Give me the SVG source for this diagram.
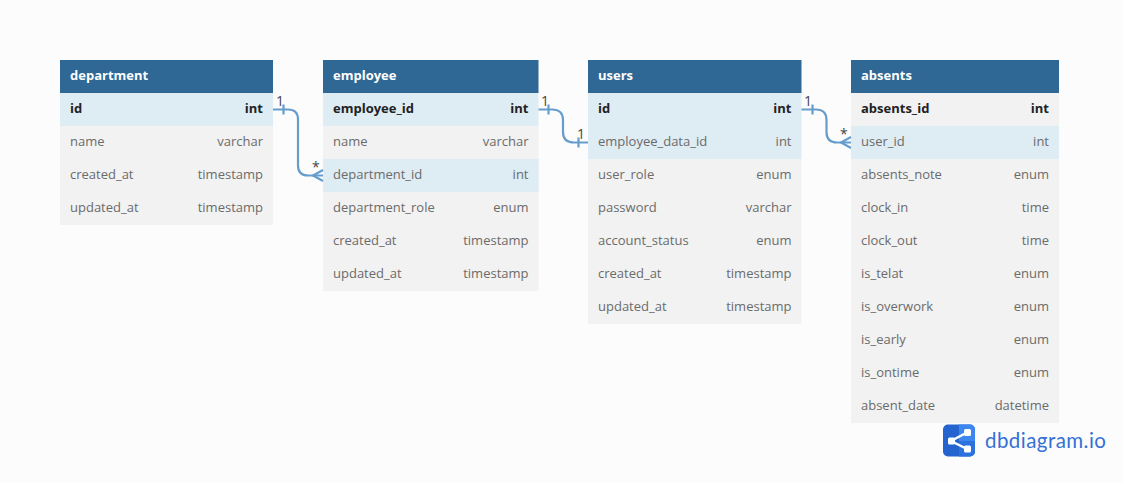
<svg xmlns="http://www.w3.org/2000/svg" width="1123" height="483" viewBox="0 0 1123 483">
<style>
text{font-family:"Open Sans","Noto Sans","Liberation Sans",sans-serif;font-size:13px;fill:#6b6b6b}
.t{font-weight:700;fill:#fff}
.b{font-weight:700;fill:#222}
.r{text-anchor:end}
.h{fill:#2f6795}
.n{fill:#f2f2f2}
.k{fill:#deecf4}
.c{fill:none;stroke:#669dcd;stroke-width:2.2}
.m{font-size:14px;fill:#444}
</style>
<rect width="1123" height="483" fill="#fcfcfc"/>
<g id="department">
<rect class="h" x="60" y="60" width="213" height="33"/>
<rect class="k" x="60" y="93" width="213" height="33"/>
<rect class="n" x="60" y="126" width="213" height="99"/>
<text class="t" x="70" y="80">department</text>
<text class="b" x="70" y="113">id</text><text class="b r" x="263" y="113">int</text>
<text x="70" y="146">name</text><text class="r" x="263" y="146">varchar</text>
<text x="70" y="179">created_at</text><text class="r" x="263" y="179">timestamp</text>
<text x="70" y="212">updated_at</text><text class="r" x="263" y="212">timestamp</text>
</g>
<g id="employee">
<rect class="h" x="323" y="60" width="215.500" height="33"/>
<rect class="k" x="323" y="93" width="215.500" height="33"/>
<rect class="n" x="323" y="126" width="215.500" height="165"/>
<rect class="k" x="323" y="159" width="215.500" height="33"/>
<text class="t" x="333" y="80">employee</text>
<text class="b" x="333" y="113">employee_id</text><text class="b r" x="528.500" y="113">int</text>
<text x="333" y="146">name</text><text class="r" x="528.500" y="146">varchar</text>
<text x="333" y="179">department_id</text><text class="r" x="528.500" y="179">int</text>
<text x="333" y="212">department_role</text><text class="r" x="528.500" y="212">enum</text>
<text x="333" y="245">created_at</text><text class="r" x="528.500" y="245">timestamp</text>
<text x="333" y="278">updated_at</text><text class="r" x="528.500" y="278">timestamp</text>
</g>
<g id="users">
<rect class="h" x="588" y="60" width="213.500" height="33"/>
<rect class="k" x="588" y="93" width="213.500" height="66"/>
<rect class="n" x="588" y="159" width="213.500" height="165"/>
<text class="t" x="598" y="80">users</text>
<text class="b" x="598" y="113">id</text><text class="b r" x="791.500" y="113">int</text>
<text x="598" y="146">employee_data_id</text><text class="r" x="791.500" y="146">int</text>
<text x="598" y="179">user_role</text><text class="r" x="791.500" y="179">enum</text>
<text x="598" y="212">password</text><text class="r" x="791.500" y="212">varchar</text>
<text x="598" y="245">account_status</text><text class="r" x="791.500" y="245">enum</text>
<text x="598" y="278">created_at</text><text class="r" x="791.500" y="278">timestamp</text>
<text x="598" y="311">updated_at</text><text class="r" x="791.500" y="311">timestamp</text>
</g>
<g id="absents">
<rect class="h" x="851" y="60" width="208" height="33"/>
<rect class="n" x="851" y="93" width="208" height="330"/>
<rect class="k" x="851" y="126" width="208" height="33"/>
<text class="t" x="861" y="80">absents</text>
<text class="b" x="861" y="113">absents_id</text><text class="b r" x="1049" y="113">int</text>
<text x="861" y="146">user_id</text><text class="r" x="1049" y="146">int</text>
<text x="861" y="179">absents_note</text><text class="r" x="1049" y="179">enum</text>
<text x="861" y="212">clock_in</text><text class="r" x="1049" y="212">time</text>
<text x="861" y="245">clock_out</text><text class="r" x="1049" y="245">time</text>
<text x="861" y="278">is_telat</text><text class="r" x="1049" y="278">enum</text>
<text x="861" y="311">is_overwork</text><text class="r" x="1049" y="311">enum</text>
<text x="861" y="344">is_early</text><text class="r" x="1049" y="344">enum</text>
<text x="861" y="377">is_ontime</text><text class="r" x="1049" y="377">enum</text>
<text x="861" y="410">absent_date</text><text class="r" x="1049" y="410">datetime</text>
</g>
<g id="connectors">
<path class="c" d="M273 109.500H288Q298 109.500 298 119.500V165.500Q298 175.500 308 175.500H323"/>
<path class="c" d="M283.500 104.500V114.500M323 170L313 175.500L323 181"/>
<text class="m" x="276" y="106">1</text><text class="m" x="312" y="172">*</text>
<path class="c" d="M538.500 109.500H552Q563 109.500 563 120V132Q563 142.500 574 142.500H588"/>
<path class="c" d="M548.500 104.500V114.500M578.500 137.500V147.500"/>
<text class="m" x="541" y="106">1</text><text class="m" x="577" y="139">1</text>
<path class="c" d="M801.500 109.500H816Q826.500 109.500 826.500 120V132Q826.500 142.500 837 142.500H851"/>
<path class="c" d="M812.500 104.500V114.500M851 137L841 142.500L851 148"/>
<text class="m" x="804" y="106">1</text><text class="m" x="840" y="139">*</text>
</g>
<g id="logo">
<rect x="943" y="424.500" width="32" height="32" rx="5" fill="#2563cf"/>
<path d="M959 424.500H970A5 5 0 0 1 975 429.500V441H959Z" fill="#3b87ee"/>
<path d="M959 441H975V451.500A5 5 0 0 1 970 456.500H959Z" fill="#2c72de"/>
<path d="M967 432.500L951 441L967 449" fill="none" stroke="#fff" stroke-width="2.500"/>
<rect x="948" y="437.500" width="7" height="7" rx="1.500" fill="#fff"/>
<rect x="964" y="429" width="7" height="7" rx="1.500" fill="#fff"/>
<rect x="964" y="445.500" width="7" height="7" rx="1.500" fill="#fff"/>
<text x="985" y="448" style="font-size:20.500px;fill:#3570d4;letter-spacing:.45px;font-family:Lato,'Open Sans',sans-serif;font-weight:400">dbdiagram.io</text>
</g>
</svg>
